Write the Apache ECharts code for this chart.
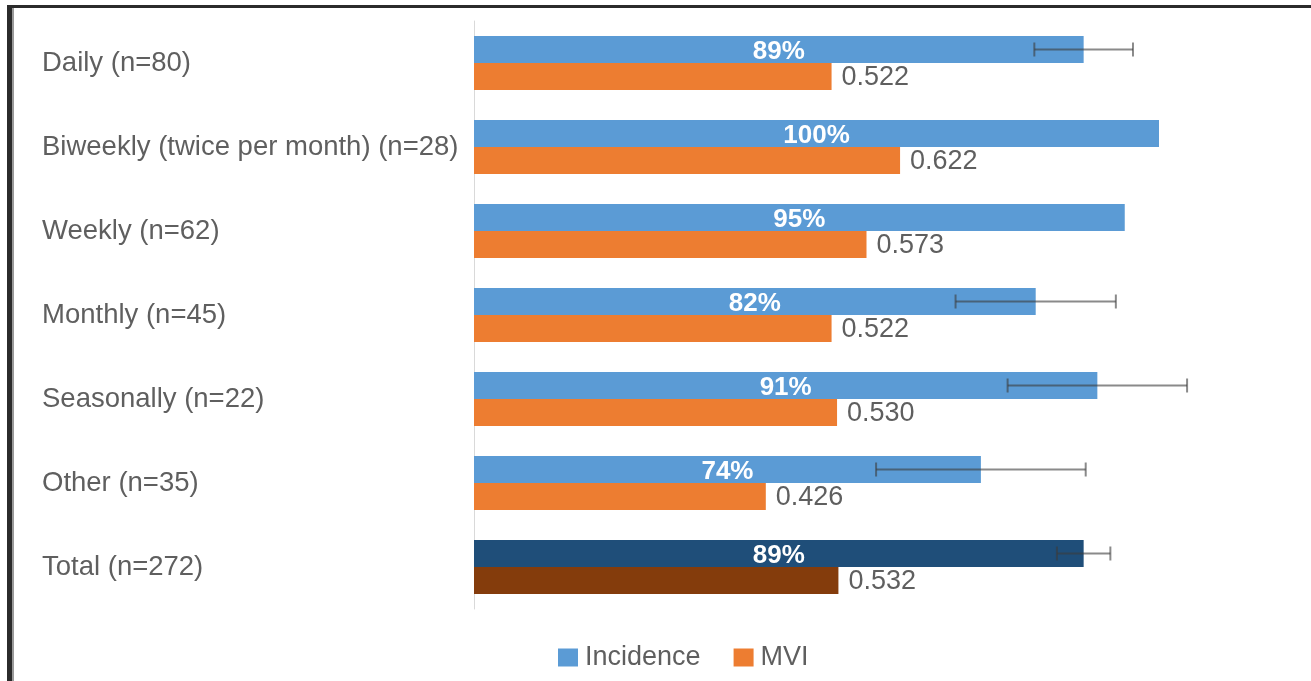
<!DOCTYPE html>
<html>
<head>
<meta charset="utf-8">
<script src="https://cdn.jsdelivr.net/npm/echarts@6/dist/echarts.min.js"></script>
<style>
html,body{margin:0;padding:0;background:#fff;}
#chart{width:1311px;height:681px;}
</style>
</head>
<body>
<div id="chart"></div>
<script>
var categories = ['Daily (n=80)', 'Biweekly (twice per month) (n=28)', 'Weekly (n=62)', 'Monthly (n=45)', 'Seasonally (n=22)', 'Other (n=35)', 'Total (n=272)'];
var incidence = [0.89, 1.00, 0.95, 0.82, 0.91, 0.74, 0.89];
var incidenceErr = [0.072, 0, 0, 0.117, 0.131, 0.153, 0.039];
var mvi = [0.522, 0.622, 0.573, 0.522, 0.530, 0.426, 0.532];

var BLUE = '#5B9BD5', ORANGE = '#ED7D31', DARKBLUE = '#1F4E79', DARKORANGE = '#843C0C';
var TEXT = '#5f5f5f';
var FONT = '"Liberation Sans", Arial, sans-serif';
var BAR_W = 27;
var lastIdx = categories.length - 1;

var incData = incidence.map(function (v, i) {
  return i === lastIdx ? { value: v, itemStyle: { color: DARKBLUE } } : v;
});
var mviData = mvi.map(function (v, i) {
  return i === lastIdx ? { value: v, itemStyle: { color: DARKORANGE } } : v;
});
var errData = incidence.map(function (v, i) { return [i, v, incidenceErr[i]]; });

var chart = echarts.init(document.getElementById('chart'));
chart.setOption({
  backgroundColor: '#fff',
  animation: false,
  textStyle: { fontFamily: FONT },
  graphic: [
    { type: 'rect', shape: { x: 7, y: 5, width: 1304, height: 3 }, style: { fill: '#2b2b2b' } },
    { type: 'rect', shape: { x: 7, y: 5, width: 5, height: 676 }, style: { fill: '#2b2b2b' } },
    { type: 'rect', shape: { x: 12, y: 8, width: 2, height: 673 }, style: { fill: '#9a9a9a' } }
  ],
  legend: {
    data: ['Incidence', 'MVI'],
    left: 553, top: 639,
    icon: 'rect', itemWidth: 20, itemHeight: 18, itemGap: 33,
    textStyle: { color: TEXT, fontSize: 27, fontFamily: FONT, padding: [0, 0, 0, 2] }
  },
  grid: { left: 474, width: 685, top: 21, bottom: 72, containLabel: false },
  xAxis: { type: 'value', min: 0, max: 1, show: false },
  yAxis: {
    type: 'category', data: categories, inverse: true,
    axisLine: { show: true, lineStyle: { color: '#d9d9d9', width: 1 } },
    axisTick: { show: false },
    axisLabel: { align: 'left', margin: 432, color: TEXT, fontSize: 27.5, fontFamily: FONT, padding: [6, 0, 0, 0] }
  },
  series: [
    {
      name: 'Incidence', type: 'bar', data: incData, barWidth: BAR_W, barGap: '0%',
      itemStyle: { color: BLUE },
      label: {
        show: true, position: 'inside', offset: [0, 2], color: '#fff', fontWeight: 'bold', fontSize: 26, fontFamily: FONT,
        formatter: function (p) { return Math.round(p.value * 100) + '%'; }
      }
    },
    {
      name: 'MVI', type: 'bar', data: mviData, barWidth: BAR_W, barGap: '0%',
      itemStyle: { color: ORANGE },
      label: {
        show: true, position: 'right', distance: 10, offset: [0, 1], color: TEXT, fontSize: 27, fontFamily: FONT,
        formatter: function (p) { return p.value.toFixed(3); }
      }
    },
    {
      name: 'err', type: 'custom', data: errData, clip: false, z: 10,
      encode: { x: [1, 2], y: 0 },
      renderItem: function (params, api) {
        var cat = api.value(0), v = api.value(1), e = api.value(2);
        if (!e) return null;
        var c = api.coord([v, cat]);
        var y = c[1] - BAR_W / 2;
        var l = api.coord([v - e, cat])[0];
        var r = api.coord([v + e, cat])[0];
        var st = { stroke: 'rgba(60,60,60,0.6)', lineWidth: 2 };
        return {
          type: 'group',
          children: [
            { type: 'line', shape: { x1: l, y1: y, x2: r, y2: y }, style: st },
            { type: 'line', shape: { x1: l, y1: y - 7, x2: l, y2: y + 7 }, style: st },
            { type: 'line', shape: { x1: r, y1: y - 7, x2: r, y2: y + 7 }, style: st }
          ]
        };
      }
    }
  ]
});
</script>
</body>
</html>
